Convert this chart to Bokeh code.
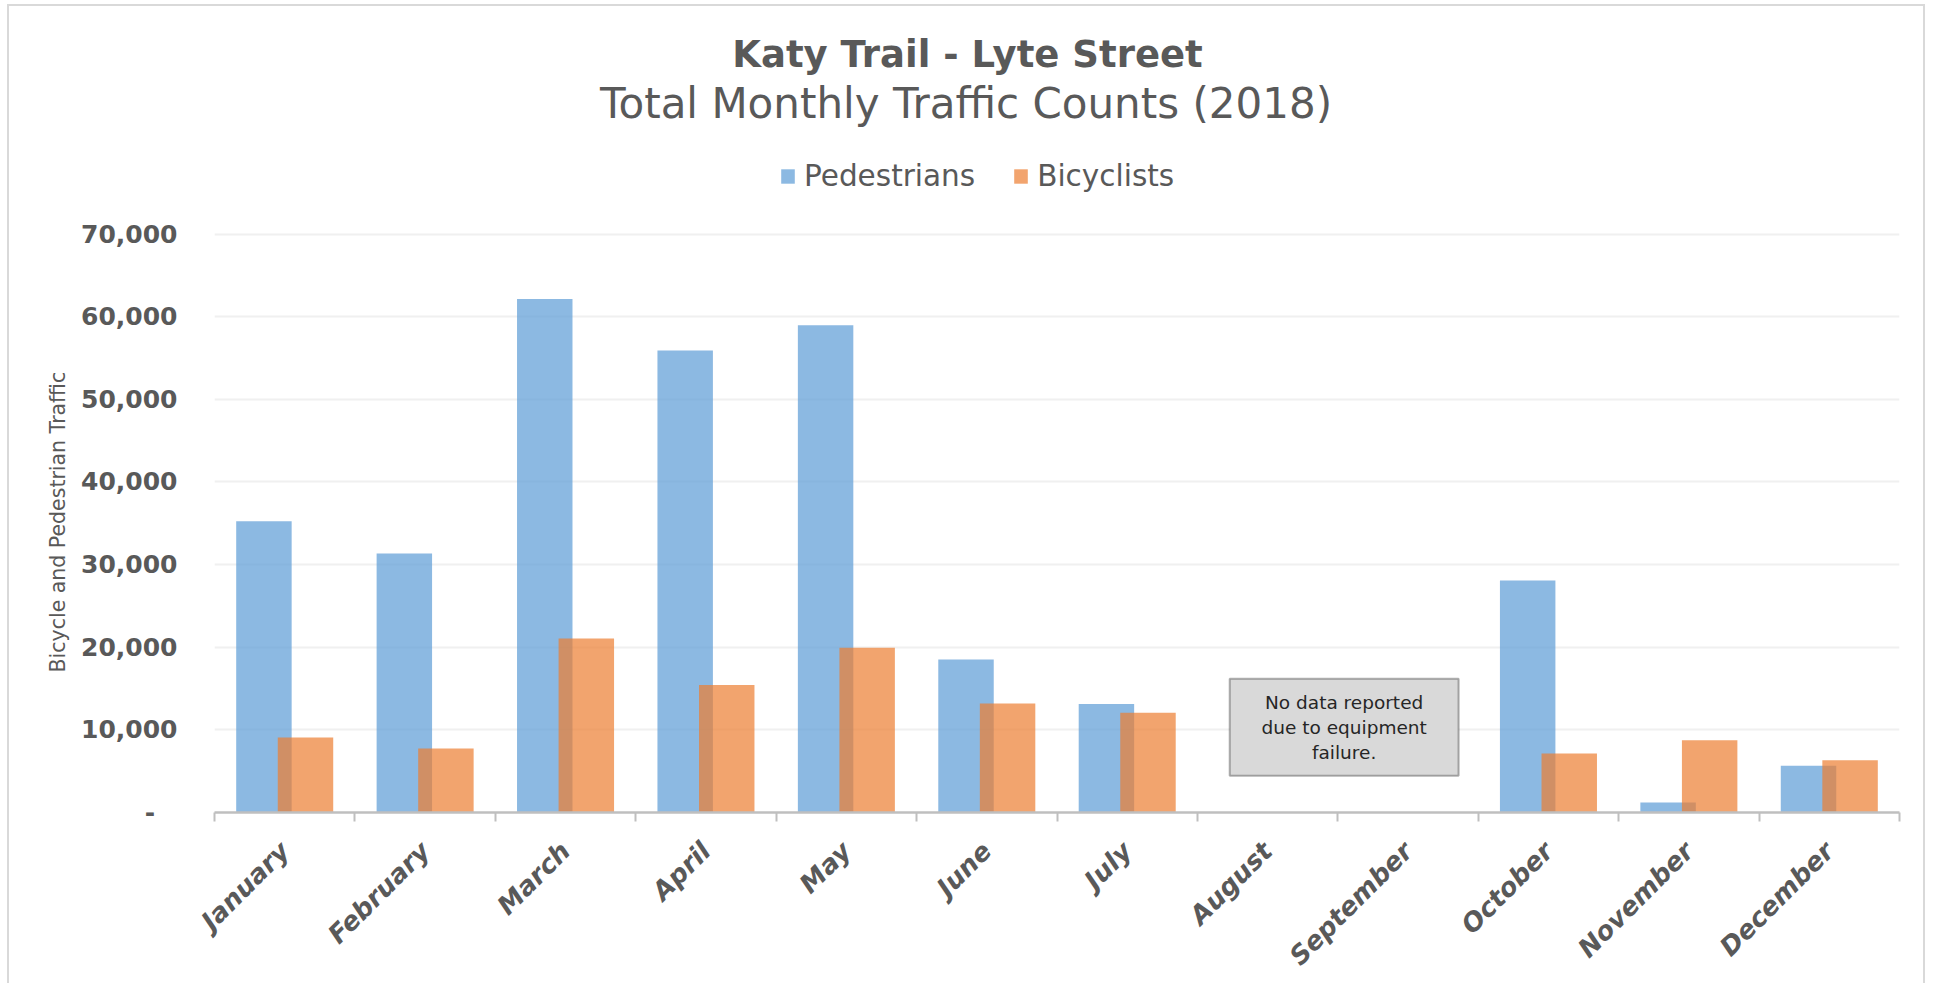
from math import pi

from bokeh.embed import file_html
from bokeh.models import (BoxAnnotation, ColumnDataSource, FixedTicker, Label, Legend, LegendItem,
                          LinearAxis, NumeralTickFormatter, Range1d, Title)
from bokeh.plotting import figure
from bokeh.resources import INLINE
from bokeh.transform import dodge

# ---- data ----
months = ["January", "February", "March", "April", "May", "June",
          "July", "August", "September", "October", "November", "December"]
pedestrians = [35240, 31350, 62130, 55900, 58970, 18500, 13140,
               float("nan"), float("nan"), 28060, 1210, 5660]
bicyclists = [9080, 7740, 21050, 15430, 19930, 13190, 12060,
              float("nan"), float("nan"), 7130, 8730, 6310]
series_names = ["Pedestrians", "Bicyclists"]
y_ticks = [0, 10000, 20000, 30000, 40000, 50000, 60000, 70000]
title_text = "Katy Trail - Lyte Street"
subtitle_text = "Total Monthly Traffic Counts (2018)"
y_label = "Bicycle and Pedestrian Traffic"
note_text = "No data reported\ndue to equipment\nfailure."

FONT = "DejaVu Sans"
GREY = "#595959"

# ---- layout constants (pixels) ----
W, H = 1918, 979
LEFT, RIGHT, BOTTOM = 205, 28, 173
TOP_PAD = 227.5            # space between frame top and the highest gridline
frame_h = H - BOTTOM
y_end = max(y_ticks) * frame_h / (frame_h - TOP_PAD)

n = len(months)
slot_centers = [i + 0.5 for i in range(n)]
src = ColumnDataSource(dict(pos=slot_centers, month=months, ped=pedestrians, bike=bicyclists))

p = figure(width=W, height=H, x_range=Range1d(0, n), y_range=Range1d(0, y_end),
           output_backend="svg", toolbar_location=None, x_axis_location=None,
           min_border_left=LEFT, min_border_right=RIGHT, min_border_top=0, min_border_bottom=BOTTOM)
p.styles = {"border-top": "2px solid #D9D9D9", "border-left": "2px solid #D9D9D9",
            "border-right": "2px solid #D9D9D9", "margin-left": "7px", "margin-top": "4px"}
p.outline_line_color = None
p.background_fill_color = "white"
p.border_fill_color = "white"

ped = p.vbar(x=dodge("pos", -0.148), top="ped", width=0.395, source=src,
             fill_color="#5B9BD5", fill_alpha=0.7, line_color=None)
bike = p.vbar(x=dodge("pos", 0.148), top="bike", width=0.395, source=src,
              fill_color="#ED7D31", fill_alpha=0.7, line_color=None)

# grid
p.xgrid.visible = False
p.ygrid.grid_line_color = "#F0F0F0"
p.ygrid.grid_line_width = 2
p.ygrid.ticker = FixedTicker(ticks=y_ticks)

# y axis
ya = p.yaxis[0]
ya.ticker = FixedTicker(ticks=y_ticks)
ya.formatter = NumeralTickFormatter(format="0,0")
ya.major_label_overrides = {0: "-\u2007\u2009"}
ya.axis_line_color = None
ya.major_tick_line_color = None
ya.minor_tick_line_color = None
ya.major_tick_out = 0
ya.major_tick_in = 0
ya.major_label_standoff = 37
ya.major_label_text_font = FONT
ya.major_label_text_font_style = "bold"
ya.major_label_text_font_size = "25px"
ya.major_label_text_color = GREY

p.add_layout(Title(text=y_label, align="left", offset=140, standoff=18,
                   text_font=FONT, text_font_style="normal", text_font_size="20.5px",
                   text_color=GREY), "left")

# x axis: boundary ticks (no labels)
tick_axis = LinearAxis(ticker=FixedTicker(ticks=list(range(n + 1))),
                       major_label_overrides={i: "" for i in range(n + 1)},
                       major_label_text_font_size="1px", major_label_standoff=0,
                       major_tick_in=0, major_tick_out=9, major_tick_line_color="#BFBFBF",
                       major_tick_line_width=2, minor_tick_line_color=None,
                       axis_line_color="#BFBFBF", axis_line_width=2.5)
p.add_layout(tick_axis, "below")

# x axis: month labels at slot centres
label_axis = LinearAxis(ticker=FixedTicker(ticks=slot_centers),
                        major_label_overrides={c: m for c, m in zip(slot_centers, months)},
                        major_label_orientation=pi / 4, axis_line_color=None,
                        major_tick_line_color=None, minor_tick_line_color=None,
                        major_tick_in=0, major_tick_out=0,
                        major_label_standoff=25, major_label_text_font=FONT,
                        major_label_text_font_style="bold italic",
                        major_label_text_font_size="26px", major_label_text_color=GREY)
p.add_layout(label_axis, "below")

# legend
legend = Legend(items=[LegendItem(label=series_names[0], renderers=[ped]),
                       LegendItem(label=series_names[1], renderers=[bike])],
                orientation="horizontal", location=(565, 619), padding=0, margin=0,
                border_line_color=None, background_fill_alpha=0, glyph_width=17, glyph_height=18,
                label_standoff=8, spacing=37, label_text_font=FONT, label_text_font_size="29.5px",
                label_text_color=GREY)
p.add_layout(legend, "center")

# titles
p.add_layout(Label(x=753, y=758, x_units="screen", y_units="screen", text=title_text,
                   text_align="center", text_baseline="alphabetic", text_font=FONT,
                   text_font_style="bold", text_font_size="37px", text_color=GREY))
p.add_layout(Label(x=751.5, y=709, x_units="screen", y_units="screen", text=subtitle_text,
                   text_align="center", text_baseline="alphabetic", text_font=FONT,
                   text_font_size="42px", text_color=GREY))

# note box
p.add_layout(BoxAnnotation(left=7.23, right=8.86, top=16170, bottom=4450,
                           fill_color="#D9D9D9", fill_alpha=1, line_color="black", line_width=2))
p.add_layout(Label(x=8.045, y=10300, text=note_text, text_align="center", text_baseline="middle",
                   text_font=FONT, text_font_size="18.5px", text_color="#262626",
                   text_line_height=1.2))

open("out.html", "w").write(file_html(p, INLINE))
